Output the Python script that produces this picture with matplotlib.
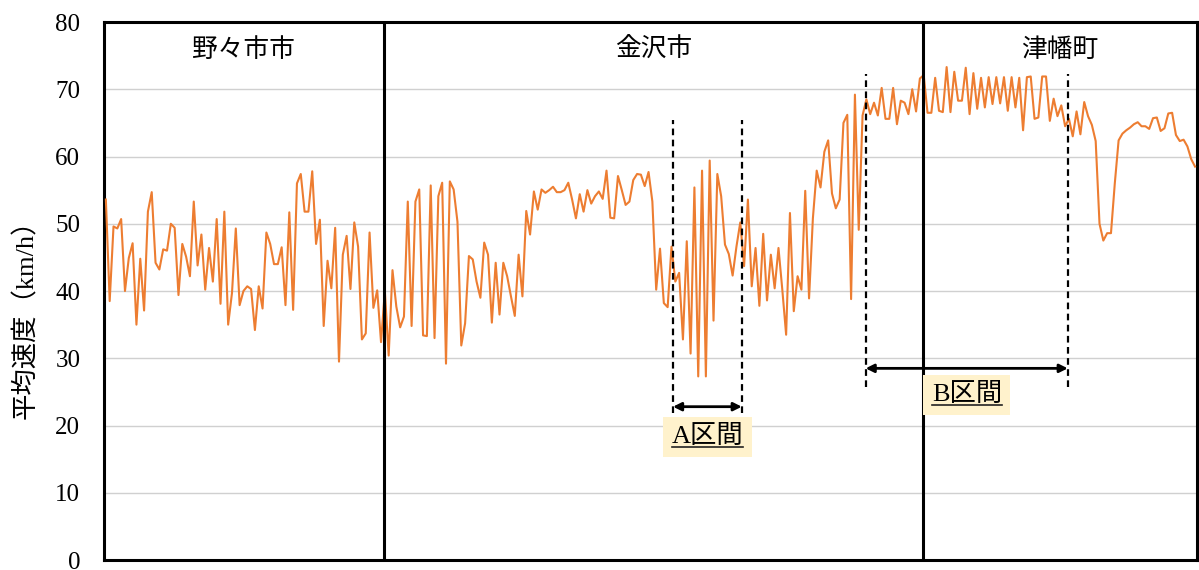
import matplotlib
matplotlib.use("Agg")
import matplotlib.pyplot as plt
import numpy as np
from matplotlib.lines import Line2D

# 平均速度 (km/h), in order along the route
speed = [
    53.6, 38.5, 49.6, 49.3, 50.7, 40.0, 44.9, 47.1, 35.0, 44.8, 37.1, 51.8, 54.7, 44.2, 43.2, 46.2,
    46.0, 50.0, 49.4, 39.4, 47.0, 45.1, 42.2, 53.3, 43.8, 48.4, 40.2, 46.4, 41.4, 50.7, 38.1, 51.8,
    35.0, 39.7, 49.3, 37.9, 40.0, 40.7, 40.3, 34.2, 40.7, 37.4, 48.7, 47.0, 44.0, 44.0, 46.5, 37.9,
    51.7, 37.2, 56.0, 57.4,
    51.8, 51.8, 57.8, 47.0, 50.6, 34.8, 44.5, 40.4, 49.4, 29.5, 45.4, 48.2, 40.3, 50.2, 46.6, 32.8,
    33.7, 48.7, 37.5, 40.1, 32.4, 40.0, 30.4, 43.1, 37.7, 34.6, 36.2, 53.3, 34.8, 53.3, 55.1, 33.4,
    33.3, 55.7, 33.0, 54.1, 56.1, 29.2, 56.3, 55.1, 50.3, 31.9, 35.2, 45.2, 44.7, 41.4, 39.0, 47.2,
    45.4,
    35.3, 44.2, 36.5, 44.2, 42.2, 39.2, 36.3, 45.4, 39.2, 51.9, 48.4, 54.8, 52.1, 55.1, 54.6, 55.0,
    55.5, 54.7, 54.7, 55.0, 56.1, 53.6, 50.8, 54.4, 51.8, 55.0, 53.0, 54.1, 54.8, 53.7, 57.9, 50.9,
    50.8, 57.1, 55.0, 52.8, 53.3, 56.5, 57.4, 57.3, 55.6, 57.7, 53.3, 40.2, 46.3, 38.2, 37.6, 46.6,
    41.4, 42.7, 32.8, 47.4, 30.7, 55.4, 27.3, 57.9, 27.3, 59.4, 35.6, 57.4, 54.1, 46.9, 45.5, 42.3,
    46.6, 50.2, 43.7, 53.6, 40.7, 46.4, 37.8, 48.5, 38.6, 45.4, 40.4, 46.4, 40.2, 33.5, 51.6, 37.0,
    42.2, 40.2, 54.9, 38.9, 50.8, 57.9, 55.4, 60.7, 62.4, 54.5, 52.3, 53.6, 65.0, 66.2, 38.8,
    69.2, 49.1, 66.1, 68.5, 66.3, 68.0, 66.1, 70.2, 65.6, 65.6, 70.2, 64.8, 68.3, 68.0, 66.3, 70.0,
    66.7, 71.6, 72.1, 66.5, 66.5, 71.7, 66.8, 66.6, 73.3, 66.6, 72.6, 68.3, 68.3, 73.2, 66.3, 72.4,
    67.1, 71.7, 67.3, 71.8, 67.8, 71.8, 67.9, 71.8, 66.8, 71.8, 67.3, 71.7, 63.9, 71.8, 71.9, 65.6,
    65.8,
    71.9, 71.9, 65.3, 68.6, 66.0, 67.6, 64.5, 65.6, 63.0, 66.7, 63.3, 68.1, 66.0, 64.7, 62.3, 50.0,
    47.5, 48.6, 48.6, 56.0, 62.4, 63.4, 63.9, 64.3, 64.8, 65.1, 64.5, 64.5, 64.1, 65.7, 65.8, 63.8,
    64.2, 66.4, 66.5, 63.2, 62.3, 62.5, 61.5, 59.6, 58.5,
]

# 市町の境界 (index along the route) and names
boundaries = [72.7, 213.8]
cities = ["野々市市", "金沢市", "津幡町"]

# 区間 A / B (start, end index)
sections = {"A区間": (148.4, 166.4), "B区間": (198.8, 251.7)}

yticks = [0, 10, 20, 30, 40, 50, 60, 70, 80]

serif_cjk = ["Liberation Serif", "Noto Sans CJK JP"]
sans_cjk = ["Noto Sans CJK JP", "DejaVu Sans"]

x = np.arange(len(speed))
xmin, xmax = -0.5, len(speed) - 0.5

fig = plt.figure(figsize=(11.99, 5.70), dpi=100)
ax = fig.add_axes([0.0867, 0.0175, 0.9116, 0.9439])

ax.plot(x, speed, color="#ED7D31", lw=1.5, zorder=3)

ax.set_xlim(xmin, xmax)
ax.set_ylim(0, 80)
ax.set_yticks(yticks)
ax.set_xticks([])
ax.grid(axis="y", color="#d0d0d0", lw=1.0, zorder=0)
ax.tick_params(axis="y", length=0, pad=17)
for lab in ax.get_yticklabels():
    lab.set_family(serif_cjk)
    lab.set_fontsize(18)
for s in ax.spines.values():
    s.set_linewidth(2.2)
    s.set_color("black")

ax.set_ylabel("平均速度（km/h）", fontsize=19, family=serif_cjk)
ax.yaxis.set_label_coords(-0.0604, 0.46)

# city boundaries and names
for b in boundaries:
    ax.axvline(b, color="black", lw=2.2, zorder=4)
edges = [xmin] + boundaries + [xmax]
for i, name in enumerate(cities):
    ax.text((edges[i] + edges[i + 1]) / 2, 75.8, name, ha="center", va="center",
            fontsize=18.5, family=sans_cjk, zorder=5)

# section markers
sec_style = {
    "A区間": dict(top=65.5, bottom=21.8, arrow=22.8, label=18.3),
    "B区間": dict(top=72.3, bottom=25.7, arrow=28.5, label=24.6),
}
labels = []
for name, (x0, x1) in sections.items():
    st = sec_style[name]
    for xv in (x0, x1):
        ax.plot([xv, xv], [st["bottom"], st["top"]], color="black", lw=1.6,
                ls=(0, (3, 2)), zorder=5)
    ax.annotate("", xy=(x0, st["arrow"]), xytext=(x1, st["arrow"]),
                arrowprops=dict(arrowstyle="<|-|>", color="black", lw=2,
                                mutation_scale=12, shrinkA=0, shrinkB=0), zorder=6)
    xc = (x0 + x1) / 2 if name == "A区間" else 225.3
    t = ax.text(xc, st["label"], name, ha="center", va="center", fontsize=19,
                family=serif_cjk, zorder=7,
                bbox=dict(boxstyle="square,pad=0.32", fc="#FFF2CC", ec="none"))
    labels.append(t)

# underline the section labels
fig.canvas.draw()
for t in labels:
    bb = t.get_window_extent()
    yline = bb.y0 + 1
    fig.add_artist(Line2D([bb.x0, bb.x1], [yline, yline], transform=None,
                          color="#222222", lw=1.2, zorder=8))

fig.savefig("out.png", dpi=100)
